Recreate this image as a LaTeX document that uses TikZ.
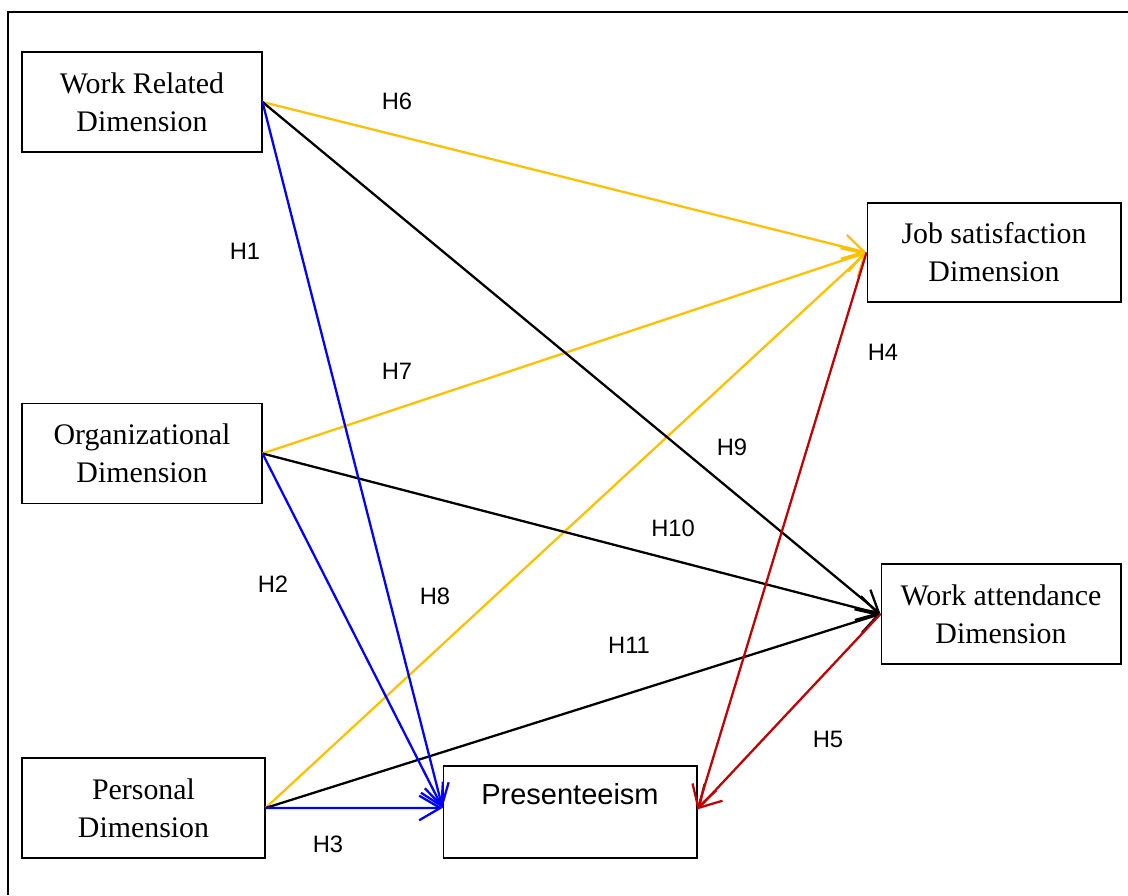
\documentclass[tikz,border=0pt]{standalone}
\usepackage{fontspec}
\setmainfont{Liberation Serif}
\newfontfamily\arialfont{Liberation Sans}
\usetikzlibrary{arrows.meta}

\definecolor{hblue}{RGB}{0,0,255}
\definecolor{hgold}{RGB}{255,192,0}
\definecolor{hred}{RGB}{192,0,0}

\begin{document}
\begin{tikzpicture}[x=0.02cm, y=-0.02cm]

\tikzstyle{kasse}=[rectangle, draw=black, line width=0.6pt, minimum width=4.8cm, minimum height=2cm, inner sep=0pt, align=center, font=\fontsize{17}{21.5}\selectfont]
\tikzstyle{pil}=[line width=1.3pt, -{Straight Barb[length=12pt, width=14pt]}]
\tikzstyle{hyp}=[inner sep=0pt, font=\arialfont\fontsize{13.5}{16}\selectfont]

\useasboundingbox (0,0) rectangle (1128,895);
\draw[line width=1.7pt] (8,895) -- (8,12) -- (1128,12);

\node[kasse] (work) at (142,102) {Work Related\\Dimension};
\node[kasse] (org) at (142,453.5) {Organizational\\Dimension};
\node[kasse, minimum width=4.86cm] (pers) at (143.5,808) {Personal\\Dimension};
\node[kasse, minimum width=5.08cm, minimum height=1.84cm, inner ysep=0pt, text height=21.5pt, text depth=30.6pt, font=\arialfont\fontsize{16.5}{20}\selectfont] (pres) at (570,812) {Presenteeism};
\node[kasse, minimum width=5.08cm, minimum height=1.98cm] (jobsat) at (994,252.5) {Job satisfaction\\Dimension};
\node[kasse] (attend) at (1001,614) {Work attendance\\Dimension};

% arrows into the two outcome boxes
\draw[pil, hgold] (work.east) to (jobsat.west);
\draw[pil, hgold] (org.east) to (jobsat.west);
\draw[pil, hgold] (pers.east) to (jobsat.west);
\draw[pil] (work.east) to (attend.west);
\draw[pil] (org.east) to (attend.west);
\draw[pil] (pers.east) to (attend.west);
% arrows into presenteeism
\draw[pil, hblue] (work.east) to ([yshift=2.3pt]pres.west);
\draw[pil, hblue] (org.east) to ([yshift=2.3pt]pres.west);
\draw[pil, hblue] (pers.east) to ([yshift=2.3pt]pres.west);
\draw[pil, hred] (jobsat.west) to ([yshift=1.5pt]pres.east);
\draw[pil, hred] (attend.west) to ([yshift=1.5pt]pres.east);

\node[hyp] (h1) at (245,251) {H1};
\node[hyp] (h2) at (273,584) {H2};
\node[hyp] (h3) at (328,844) {H3};
\node[hyp] (h4) at (883,352) {H4};
\node[hyp] (h5) at (828,739) {H5};
\node[hyp] (h6) at (397,101) {H6};
\node[hyp] (h7) at (397,371) {H7};
\node[hyp] (h8) at (435,596) {H8};
\node[hyp] (h9) at (732,447) {H9};
\node[hyp] (h10) at (673,528) {H10};
\node[hyp] (h11) at (629,645) {H11};

\end{tikzpicture}
\end{document}
